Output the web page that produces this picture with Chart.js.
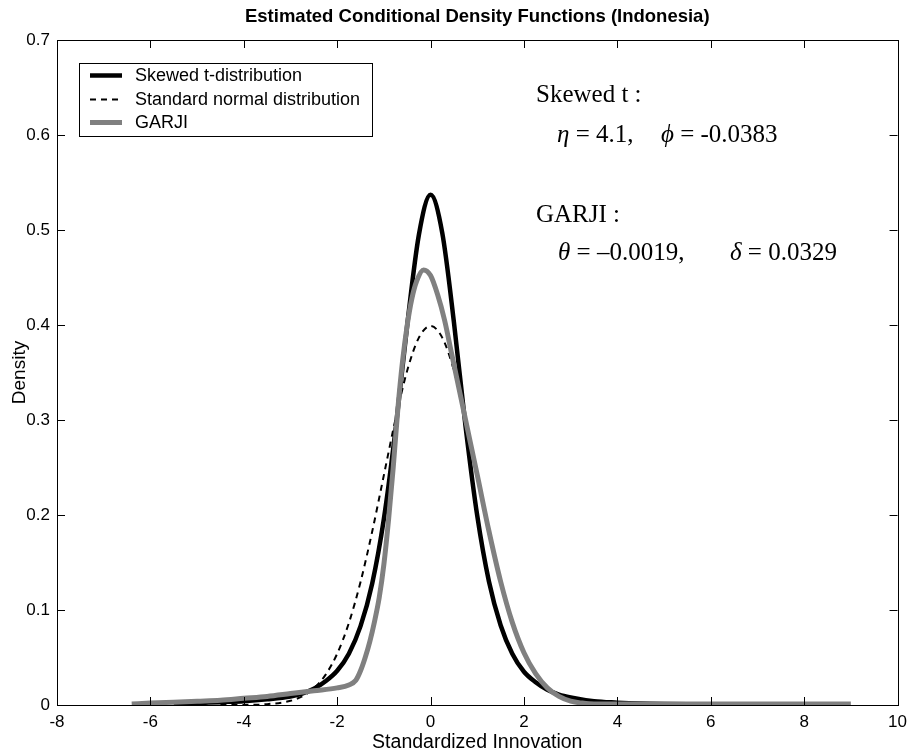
<!DOCTYPE html>
<html>
<head>
<meta charset="utf-8">
<script src="https://cdn.jsdelivr.net/npm/chart.js@4/dist/chart.umd.min.js"></script>
<style>
  html, body { margin: 0; padding: 0; background: #ffffff; }
  #wrap { width: 914px; height: 756px; }
</style>
</head>
<body>
<div id="wrap"><canvas id="c" width="914" height="756"></canvas></div>
<script>
// ---- data ----
const xTicks = [-8, -6, -4, -2, 0, 2, 4, 6, 8, 10];
const yTicks = [0, 0.1, 0.2, 0.3, 0.4, 0.5, 0.6, 0.7];

const skewX = [-5.5, -5, -4.5, -4, -3.5, -3, -2.75, -2.5, -2.25, -2, -1.75, -1.5, -1.25, -1, -0.75, -0.5, -0.25, 0, 0.25, 0.5, 0.75, 1, 1.25, 1.5, 1.75, 2, 2.25, 2.5, 2.75, 3, 3.5, 4, 4.5, 5, 6, 7];
const skewY = [0.001, 0.002, 0.003, 0.004, 0.006, 0.009, 0.012, 0.017, 0.025, 0.036, 0.054, 0.083, 0.128, 0.196, 0.290, 0.400, 0.495, 0.537, 0.497, 0.403, 0.293, 0.199, 0.130, 0.084, 0.054, 0.035, 0.024, 0.016, 0.011, 0.008, 0.004, 0.0025, 0.0015, 0.001, 0.0005, 0.0003];

const normX = [-4.5, -4, -3.5, -3, -2.75, -2.5, -2.25, -2, -1.75, -1.5, -1.25, -1, -0.75, -0.5, -0.25, 0, 0.25, 0.5, 0.75, 1, 1.25, 1.5, 1.75, 2, 2.25, 2.5, 2.75, 3, 3.5, 4, 4.5];
const normY = [0.00002, 0.0001, 0.0009, 0.0044, 0.0091, 0.0175, 0.0317, 0.054, 0.0863, 0.1295, 0.1826, 0.242, 0.3011, 0.3521, 0.3867, 0.3989, 0.3867, 0.3521, 0.3011, 0.242, 0.1826, 0.1295, 0.0863, 0.054, 0.0317, 0.0175, 0.0091, 0.0044, 0.0009, 0.0001, 0.00002];

const garjiX = [-6.4, -6, -5.5, -5, -4.5, -4, -3.5, -3, -2.5, -2, -1.75, -1.6, -1.5, -1.4, -1.3, -1.2, -1.1, -1.0, -0.9, -0.8, -0.7, -0.6, -0.5, -0.4, -0.3, -0.15, 0, 0.15, 0.3, 0.45, 0.6, 0.75, 1.0, 1.25, 1.5, 1.75, 2, 2.25, 2.5, 2.75, 3, 3.25, 3.5, 4, 5, 6, 7, 8, 9];
const garjiY = [0.001, 0.002, 0.003, 0.004, 0.005, 0.007, 0.009, 0.012, 0.015, 0.018, 0.021, 0.026, 0.036, 0.050, 0.067, 0.088, 0.113, 0.148, 0.195, 0.250, 0.312, 0.362, 0.400, 0.428, 0.446, 0.458, 0.452, 0.432, 0.405, 0.370, 0.335, 0.300, 0.242, 0.183, 0.130, 0.087, 0.055, 0.033, 0.018, 0.009, 0.004, 0.002, 0.001, 0.001, 0.001, 0.001, 0.001, 0.001, 0.001];

const seriesNames = ['Skewed t-distribution', 'Standard normal distribution', 'GARJI'];
const titleText = 'Estimated Conditional Density Functions (Indonesia)';
const xTitle = 'Standardized Innovation';
const yTitle = 'Density';

function pts(xs, ys) { return xs.map((x, i) => ({ x: x, y: ys[i] })); }

const SANS = 'Arial, "Liberation Sans", sans-serif';
const SERIF = '"Liberation Serif", "Times New Roman", serif';

// ---- plugins: inward ticks on all sides, frame, legend box, annotations ----
const framePlugin = {
  id: 'frame',
  afterDatasetsDraw(chart) {
    const ctx = chart.ctx, a = chart.chartArea;
    const xs = chart.scales.x, ys = chart.scales.y;
    const L = 8;
    ctx.save();
    ctx.strokeStyle = '#000';
    ctx.lineWidth = 1;
    ctx.beginPath();
    xs.ticks.forEach(t => {
      const p = Math.round(xs.getPixelForValue(t.value)) + 0.5;
      ctx.moveTo(p, a.bottom); ctx.lineTo(p, a.bottom - L);
      ctx.moveTo(p, a.top); ctx.lineTo(p, a.top + L);
    });
    ys.ticks.forEach(t => {
      const p = Math.round(ys.getPixelForValue(t.value)) + 0.5;
      ctx.moveTo(a.left, p); ctx.lineTo(a.left + L, p);
      ctx.moveTo(a.right, p); ctx.lineTo(a.right - L, p);
    });
    ctx.stroke();
    ctx.strokeRect(Math.round(a.left) + 0.5, Math.round(a.top) + 0.5, Math.round(a.right - a.left), Math.round(a.bottom - a.top));
    ctx.restore();
  },
  afterDraw(chart) {
    const ctx = chart.ctx;
    const ds = chart.data.datasets;
    // legend box
    const bx = 79, by = 63, bw = 293, bh = 73;
    ctx.save();
    ctx.fillStyle = '#fff';
    ctx.fillRect(bx, by, bw, bh);
    ctx.strokeStyle = '#000';
    ctx.lineWidth = 1;
    ctx.strokeRect(bx + 0.5, by + 0.5, bw, bh);
    const rows = [75, 99, 122];
    ctx.font = '18px ' + SANS;
    ctx.textBaseline = 'middle';
    ctx.textAlign = 'left';
    [0, 1, 2].forEach((di, r) => {
      const d = ds[di];
      ctx.beginPath();
      ctx.strokeStyle = d.borderColor;
      ctx.lineWidth = d.borderWidth;
      ctx.setLineDash(d.borderDash || []);
      ctx.moveTo(90, rows[r] + 0.5); ctx.lineTo(122, rows[r] + 0.5);
      ctx.stroke();
      ctx.setLineDash([]);
      ctx.fillStyle = '#000';
      ctx.fillText(d.label, 135, rows[r] + 1);
    });
    // annotations (Times style); each group: [startX, [text, italic]...]
    ctx.fillStyle = '#000';
    ctx.textBaseline = 'alphabetic';
    function runs(y, groups) {
      groups.forEach(g => {
        let cx = g[0];
        g[1].forEach(p => {
          ctx.font = (p[1] ? 'italic ' : '') + '25px ' + SERIF;
          ctx.fillText(p[0], cx, y);
          cx += ctx.measureText(p[0]).width;
        });
      });
    }
    runs(102, [[536, [['Skewed t :', false]]]]);
    runs(142, [[557, [['\u03B7', true], [' = 4.1,', false]]], [661, [['\u03D5', true], [' = -0.0383', false]]]]);
    runs(222, [[536, [['GARJI :', false]]]]);
    runs(260, [[558, [['\u03B8', true], [' = \u20130.0019,', false]]], [730, [['\u03B4', true], [' = 0.0329', false]]]]);
    ctx.restore();
  }
};

const ctx = document.getElementById('c').getContext('2d');
new Chart(ctx, {
  type: 'scatter',
  data: {
    datasets: [
      { label: seriesNames[0], data: pts(skewX, skewY), showLine: true, borderColor: '#000000', borderWidth: 4.5, pointRadius: 0, cubicInterpolationMode: 'monotone', order: 3 },
      { label: seriesNames[1], data: pts(normX, normY), showLine: true, borderColor: '#000000', borderWidth: 2, borderDash: [6, 5], pointRadius: 0, cubicInterpolationMode: 'monotone', order: 2 },
      { label: seriesNames[2], data: pts(garjiX, garjiY), showLine: true, borderColor: '#808080', borderWidth: 5, pointRadius: 0, cubicInterpolationMode: 'monotone', order: 1 }
    ]
  },
  options: {
    responsive: false,
    animation: false,
    events: [],
    layout: { padding: { left: 0, right: 13, top: 0, bottom: 0 } },
    plugins: {
      legend: { display: false },
      tooltip: { enabled: false },
      title: {
        display: true, text: titleText, color: '#000', fullSize: false,
        font: { family: SANS, size: 18.5, weight: 'bold', lineHeight: 1.2 },
        padding: { top: 6, bottom: 11.8 }
      }
    },
    scales: {
      x: {
        type: 'linear', min: -8, max: 10,
        afterBuildTicks(s) { s.ticks = xTicks.map(v => ({ value: v })); },
        afterFit(s) { s.height = 51; },
        grid: { display: false, drawTicks: false },
        border: { display: false },
        ticks: { color: '#000', padding: 7, font: { family: SANS, size: 17 }, callback: v => String(v), maxRotation: 0 },
        title: { display: true, text: xTitle, color: '#000', padding: { top: 0, bottom: 2 }, font: { family: SANS, size: 19.5, lineHeight: 1.2 } }
      },
      y: {
        type: 'linear', min: 0, max: 0.7,
        afterBuildTicks(s) { s.ticks = yTicks.map(v => ({ value: v })); },
        afterFit(s) { s.width = 57; },
        grid: { display: false, drawTicks: false },
        border: { display: false },
        ticks: { color: '#000', padding: 7, font: { family: SANS, size: 17 }, callback: v => String(v) },
        title: { display: true, text: yTitle, color: '#000', padding: { top: 8, bottom: 0 }, font: { family: SANS, size: 19, lineHeight: 1.2 } }
      }
    }
  },
  plugins: [framePlugin]
});
</script>
</body>
</html>
